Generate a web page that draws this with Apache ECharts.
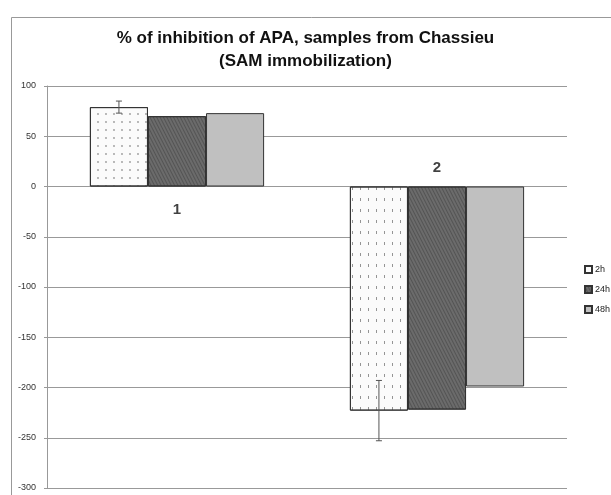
<!DOCTYPE html>
<html><head><meta charset="utf-8">
<script src="https://cdn.jsdelivr.net/npm/echarts@6/dist/echarts.min.js"></script>
<style>html,body{margin:0;padding:0;background:#fff}#c{width:611px;height:495px}</style>
</head><body><div id="c"></div>
<script>
const categories = ['1', '2'];
const seriesNames = ['2h', '24h', '48h'];
const values2h = [79, -223];
const values24h = [70, -222];
const values48h = [73, -199];
const err2h = [6, 30];
const yTicks = {min: -300, max: 100, interval: 50};

const chart = echarts.init(document.getElementById('c'));
const dotDecal = {symbol: 'circle', symbolSize: 0.45, dashArrayX: 4, dashArrayY: 4, color: 'rgba(90,90,90,0.6)'};
const dashDecal = {symbol: 'rect', symbolSize: 1, dashArrayX: [[1, 7]], dashArrayY: [3, 8], color: 'rgba(80,80,80,0.6)'};
const hatchDecal = {symbol: 'rect', symbolSize: 1, dashArrayX: [[1, 0]], dashArrayY: [1, 2], rotation: 1.1, color: 'rgba(40,40,40,0.35)'};

const border = {borderColor: '#333', borderWidth: 1};
chart.setOption({
  animation: false,
  backgroundColor: '#fff',
  title: {
    text: '% of inhibition of APA, samples from Chassieu\n(SAM immobilization)',
    left: 'center', top: 22,
    textStyle: {fontFamily: 'Liberation Sans', fontSize: 17, fontWeight: 'bold', color: '#111', lineHeight: 23}
  },
  legend: {
    data: seriesNames, orient: 'vertical', left: 579, top: 260, icon: 'rect',
    itemWidth: 7, itemHeight: 7, itemGap: 11,
    textStyle: {fontFamily: 'Liberation Sans', fontSize: 9, color: '#222', padding: [0, 0, 0, -2]}
  },
  grid: {left: 47, right: 44, top: 86, bottom: 7},
  xAxis: {
    type: 'category', data: categories,
    axisLine: {show: false}, axisTick: {show: false}, axisLabel: {show: false}
  },
  yAxis: {
    type: 'value', min: yTicks.min, max: yTicks.max, interval: yTicks.interval,
    axisLine: {show: true, lineStyle: {color: '#999'}},
    axisTick: {show: true, length: 3, lineStyle: {color: '#999'}},
    axisLabel: {fontFamily: 'Liberation Sans', fontSize: 9, color: '#333', margin: 11},
    splitLine: {lineStyle: {color: '#999'}}
  },
  series: [
    {name: '2h', type: 'bar', barGap: '0%', barCategoryGap: '33%',
     itemStyle: Object.assign({color: '#fbfbfb'}, border),
     data: [
       {value: values2h[0], itemStyle: {decal: dotDecal}},
       {value: values2h[1], itemStyle: {decal: dashDecal}}
     ]},
    {name: '24h', type: 'bar', itemStyle: Object.assign({color: '#6b6b6b', decal: hatchDecal}, border), data: values24h},
    {name: '48h', type: 'bar', itemStyle: Object.assign({color: '#c0c0c0'}, border), data: values48h},
    {name: 'err', type: 'custom', z: 10,
     data: values2h.map((v, i) => [i, v - err2h[i], v + err2h[i]]),
     renderItem: function (params, api) {
       const i = api.value(0);
       const lo = api.coord([i, api.value(1)]);
       const hi = api.coord([i, api.value(2)]);
       const bw = api.size([1, 0])[0];
       const x = lo[0] - bw * 0.67 / 3;
       const cap = 3;
       const st = {stroke: '#555', lineWidth: 1};
       return {type: 'group', children: [
         {type: 'line', shape: {x1: x, y1: lo[1], x2: x, y2: hi[1]}, style: st},
         {type: 'line', shape: {x1: x - cap, y1: lo[1], x2: x + cap, y2: lo[1]}, style: st},
         {type: 'line', shape: {x1: x - cap, y1: hi[1], x2: x + cap, y2: hi[1]}, style: st}
       ]};
     }},
    {name: 'lbl', type: 'scatter', symbolSize: 0, z: 11,
     data: [
       {value: [0, 0], label: {show: true, position: 'bottom', distance: 16, formatter: categories[0]}},
       {value: [1, 0], label: {show: true, position: 'top', distance: 11, formatter: categories[1]}}
     ],
     label: {fontFamily: 'Liberation Sans', fontSize: 15, fontWeight: 'bold', color: '#111'}}
  ],
  graphic: [{type: 'rect', left: 9, top: 15, shape: {width: 620, height: 500}, style: {fill: 'none', stroke: '#999', lineWidth: 1}, silent: true, z: -1}]
});
</script></body></html>
